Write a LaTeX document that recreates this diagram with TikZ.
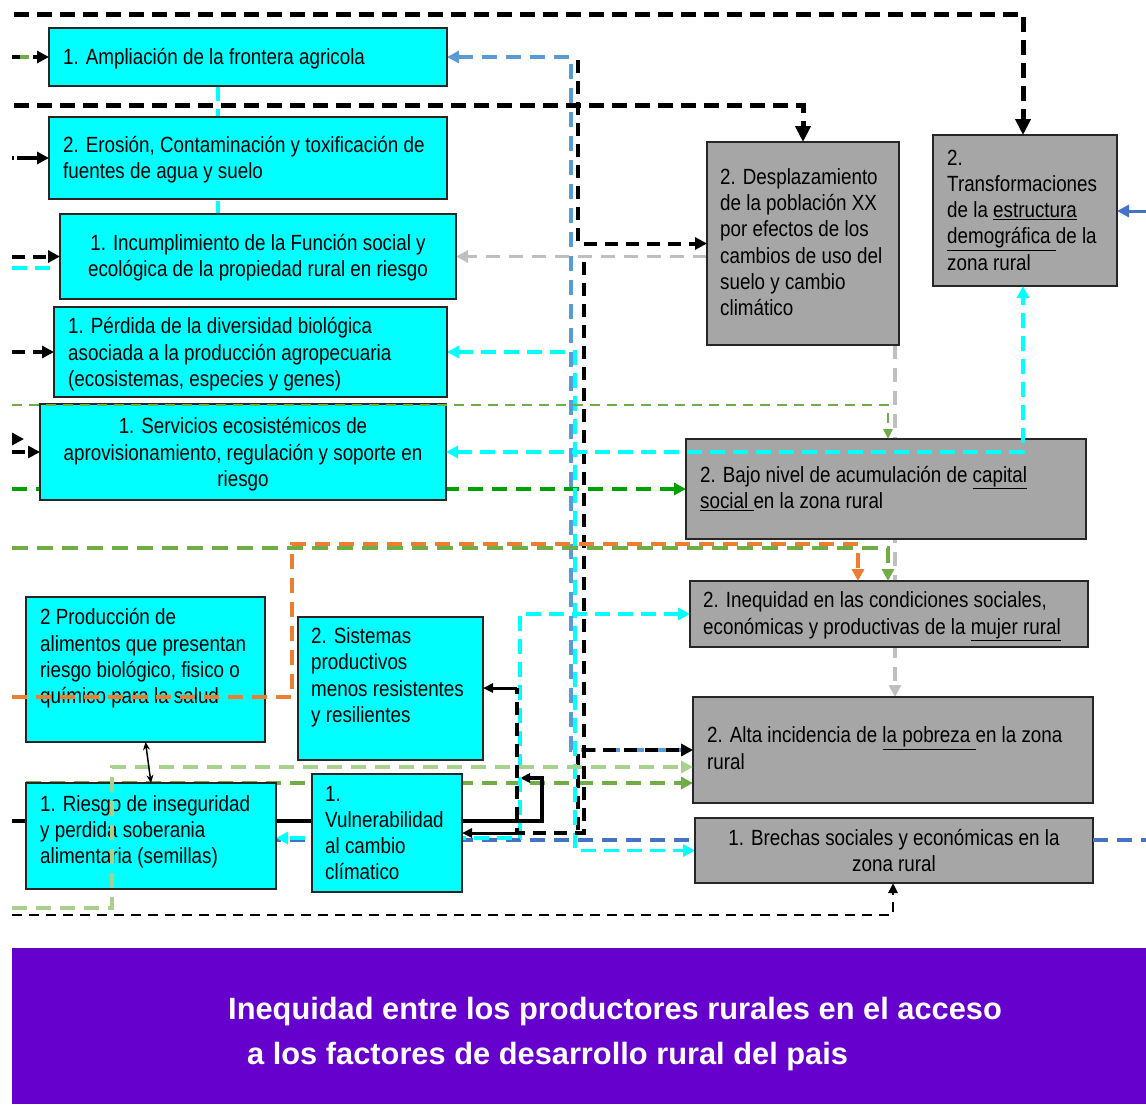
\documentclass[tikz,border=0pt]{standalone}
\usepackage{fontspec}
\newfontfamily\boxfont{Liberation Sans}[FakeStretch=0.855]
\newfontfamily\bannerfont{Liberation Sans}
\usetikzlibrary{arrows.meta}
\pgfdeclarelayer{background}
\pgfsetlayers{background,main}

\definecolor{boxcyan}{HTML}{00FFFF}
\definecolor{boxgray}{HTML}{A6A6A6}
\definecolor{bannerviolet}{HTML}{6600CC}
\definecolor{lblue}{HTML}{5B9BD5}
\definecolor{dblue}{HTML}{4472C4}
\definecolor{lgray}{HTML}{BFBFBF}
\definecolor{mgreen}{HTML}{70AD47}
\definecolor{pgreen}{HTML}{A9D18E}
\definecolor{dgreen}{HTML}{00A000}
\definecolor{orng}{HTML}{ED7D31}
\definecolor{edge}{HTML}{262626}

\tikzset{
  cbox/.style={draw=edge, line width=1.5pt, fill=boxcyan, inner sep=0pt, outer sep=0pt},
  gbox/.style={draw=edge, line width=1.5pt, fill=boxgray, inner sep=0pt, outer sep=0pt},
  txt/.style={font=\boxfont\fontsize{22}{26.2}\selectfont, inner sep=0pt, align=left, anchor=west,
    execute at begin node=\strut, execute at end node=\strut},
  ctxt/.style={txt, align=center, anchor=center},
  tipL/.style={-{Triangle[length=16pt,width=15pt]}},
  tipM/.style={-{Triangle[length=12pt,width=12pt]}},
  tipS/.style={-{Triangle[length=10pt,width=9pt]}},
  tipMM/.style={{Triangle[length=12pt,width=12pt]}-{Triangle[length=12pt,width=12pt]}},
  bkthick/.style={black, line width=5pt, dash pattern=on 15pt off 8pt},
  bkmid/.style={black, line width=4pt, dash pattern=on 13pt off 8pt},
  bkthin/.style={black, line width=2.8pt, dash pattern=on 10pt off 7pt},
  cyline/.style={boxcyan, line width=3.8pt, dash pattern=on 15pt off 8pt},
  lbline/.style={lblue, line width=3.6pt, dash pattern=on 15pt off 9pt},
  dbline/.style={dblue, line width=3.6pt, dash pattern=on 15pt off 9pt},
  grline/.style={lgray, line width=3.6pt, dash pattern=on 14pt off 9pt},
  mgthin/.style={mgreen, line width=2.6pt, dash pattern=on 10pt off 7pt},
  mgthick/.style={mgreen, line width=4pt, dash pattern=on 16pt off 9pt},
  mgmid/.style={mgreen, line width=3.6pt, dash pattern=on 15pt off 9pt},
  dgline/.style={dgreen, line width=4pt, dash pattern=on 15pt off 9pt},
  orline/.style={orng, line width=4pt, dash pattern=on 15pt off 9pt},
  pgline/.style={pgreen, line width=3.6pt, dash pattern=on 15pt off 9pt},
}

\begin{document}
\begin{tikzpicture}[x=1pt, y=-1pt]
\useasboundingbox (0,0) rectangle (1146,1104);
\begin{pgfonlayer}{background}
  \fill[white] (0,0) rectangle (1146,1104);
\end{pgfonlayer}

% ---------- cyan boxes ----------
\node[cbox, minimum width=398pt, minimum height=58pt] (amp) at (248,57) {};
\node[cbox, minimum width=398pt, minimum height=82pt] (ero) at (248,158) {};
\node[cbox, minimum width=396pt, minimum height=85pt] (inc) at (258,256.5) {};
\node[cbox, minimum width=393pt, minimum height=90pt] (per) at (250.5,352) {};
\node[cbox, minimum width=406pt, minimum height=96pt] (ser) at (243,452) {};
\node[cbox, minimum width=239pt, minimum height=145pt] (prod) at (145.5,669.5) {};
\node[cbox, minimum width=185pt, minimum height=143pt] (sis) at (390.5,688.5) {};
\node[cbox, minimum width=250pt, minimum height=106pt] (rie) at (151,836) {};
\node[cbox, minimum width=150pt, minimum height=118pt] (vul) at (387,833) {};

% ---------- gray boxes ----------
\node[gbox, minimum width=192pt, minimum height=203pt] (des) at (803,243.5) {};
\node[gbox, minimum width=184pt, minimum height=151pt] (tra) at (1025,210.5) {};
\node[gbox, minimum width=400pt, minimum height=100pt] (baj) at (886,489) {};
\node[gbox, minimum width=398pt, minimum height=66pt] (ineq) at (889,614) {};
\node[gbox, minimum width=400pt, minimum height=106pt] (alta) at (893,750) {};
\node[gbox, minimum width=398pt, minimum height=65pt] (bre) at (894,850.5) {};

% ---------- box texts ----------
\node[txt] (amp-t) at (63,59.5) {1. Ampliación de la frontera agricola};
\node[txt] (ero-t) at (63,161.5) {2. Erosión, Contaminación y toxificación de\\fuentes de agua y suelo};
\node[ctxt] (inc-t) at (258,259.5) {1. Incumplimiento de la Función social y\\ecológica de la propiedad rural en riesgo};
\node[txt] (per-t) at (68,356) {1. Pérdida de la diversidad biológica\\asociada a la producción agropecuaria\\(ecosistemas, especies y genes)};
\node[ctxt] (ser-t) at (243,456) {1. Servicios ecosistémicos de\\aprovisionamiento, regulación y soporte en\\riesgo};
\node[txt] (prod-t) at (40,660) {2 Producción de\\alimentos que presentan\\riesgo biológico, fisico o\\químico para la salud};
\node[txt] (sis-t) at (311,679) {2. Sistemas\\productivos\\menos resistentes\\y resilientes};
\node[txt] (rie-t) at (40,833.5) {1. Riesgo de inseguridad\\y perdida soberania\\alimentaria (semillas)};
\node[txt] (vul-t) at (325,837) {1.\\Vulnerabilidad\\al cambio\\clímatico};
\node[txt] (des-t) at (720,246) {2. Desplazamiento\\de la población XX\\por efectos de los\\cambios de uso del\\suelo y cambio\\climático};
\node[txt] (tra-t) at (947,214) {2.\\Transformaciones\\de la \underline{estructura}\\\underline{demográfica }de la\\zona rural};
\node[txt] (baj-t) at (700,491.5) {2. Bajo nivel de acumulación de \underline{capital}\\\underline{social }en la zona rural};
\node[txt] (ineq-t) at (703,617) {2. Inequidad en las condiciones sociales,\\económicas y productivas de la \underline{mujer rural}};
\node[txt] (alta-t) at (707,752) {2. Alta incidencia de \underline{la pobreza }en la zona\\rural};
\node[ctxt] (bre-t) at (894,854) {1. Brechas sociales y económicas en la\\zona rural};

% ---------- banner ----------
\node[fill=bannerviolet, minimum width=1134pt, minimum height=156pt, inner sep=0pt] (ban) at (579,1026) {};
\node[anchor=base west, inner sep=0pt, text=white, font=\bannerfont\bfseries\fontsize{30.8}{36}\selectfont]
  (ban-a) at (228,1019) {Inequidad entre los productores rurales en el acceso};
\node[anchor=base west, inner sep=0pt, text=white, font=\bannerfont\bfseries\fontsize{30.8}{36}\selectfont]
  (ban-b) at (247,1064) {a los factores de desarrollo rural del pais};

% ---------- routing points ----------
\coordinate (k1) at (14,14);   \coordinate (k1r) at (1023,14);
\coordinate (k2) at (14,105);  \coordinate (k2r) at (803,105);
\coordinate (v1) at (578,60);
\coordinate (v2) at (584,262); \coordinate (v2b) at (584,833);
\coordinate (v3) at (517,833); \coordinate (v3t) at (517,688);
\coordinate (s0) at (12,821);  \coordinate (s1) at (542,821);
\coordinate (s2) at (542,778); \coordinate (s3) at (520,778);
\coordinate (a1) at (578,830);
\coordinate (b1) at (571,57);  \coordinate (b2) at (571,750);
\coordinate (d1) at (26,840);  \coordinate (d2) at (1146,840);
\coordinate (d3) at (1146,211);
\coordinate (c1) at (218,0);
\coordinate (c2) at (12,268);  \coordinate (c2r) at (55,268);
\coordinate (c3) at (575,0);
\coordinate (c4) at (1023,452);
\coordinate (c5) at (520,838);
\coordinate (g1) at (895,345);
\coordinate (m1) at (12,405);  \coordinate (m1r) at (888,405);
\coordinate (m2) at (12,548);  \coordinate (m2r) at (888,548);
\coordinate (m3) at (26,783);
\coordinate (dg) at (12,489);
\coordinate (o1) at (12,697);  \coordinate (o2) at (292,697);
\coordinate (o3) at (292,544); \coordinate (o4) at (858,544);
\coordinate (p1) at (12,908);  \coordinate (p2) at (112,908);
\coordinate (p3) at (112,767);
\coordinate (q1) at (12,915);  \coordinate (q2) at (893,915);
\coordinate (e1) at (12,57);   \coordinate (e1g) at (20,57); \coordinate (e1h) at (29,57);
\coordinate (e2d) at (12,158); \coordinate (e2e) at (14,158); \coordinate (e2) at (17,158);
\coordinate (e3) at (12,256.5);
\coordinate (e4) at (12,352);
\coordinate (e5) at (12,439);  \coordinate (e5r) at (24,439);
\coordinate (e6) at (12,452);

% ---------- connectors behind the boxes ----------
\begin{pgfonlayer}{background}
  \draw[cyline] (c1 |- amp.south) -- (c1 |- inc.north);
  \draw[grline, tipM] (inc.east -| des.west) -- (inc.east);
  \draw[grline, tipM] (g1) -- (g1 |- alta.north);
  \draw[dgline, tipM] (dg) -- (baj.west);
  \draw[mgmid, tipM] (m3) -- (m3 -| alta.west);
  \draw[black, line width=3.4pt, tipS] (s0) -- (s1) -- (s2) -- (s3);
  \draw[dbline] (d1) -- (d1 -| bre.west);
  \draw[cyline, tipMM] (ineq.west) -- (ineq.west -| c5) -- (c5) -- (c5 -| rie.east);
  \draw[lbline, tipMM] (amp.east) -- (b1) -- (b2) -- (alta.west);
  \draw[bkmid, tipM] (a1) -- (a1 |- alta.west) -- (alta.west);
  \draw[cyline, tipMM] (per.east) -- (per.east -| c3) -- (c3 |- bre.west) -- (bre.west);
\end{pgfonlayer}

% ---------- connectors in front ----------
\draw[bkthick, tipL] (k1) -- (k1r) -- (k1r |- tra.north);
\draw[bkthick, tipL] (k2) -- (k2r) -- (k2r |- des.north);
\draw[bkmid, tipM] (v1) -- (v1 |- des.west) -- (des.west);
\draw[bkmid] (v2) -- (v2b) -- (v3) -- (v3t);
\draw[black, line width=3pt, tipS] (v3) -- (v3 -| vul.east);
\draw[black, line width=3pt, tipS] (v3t) -- (v3t -| sis.east);
\draw[dbline] (d2 -| bre.east) -- (d2);
\draw[dblue, line width=3pt, tipM] (d3) -- (d3 -| tra.east);
\draw[cyline] (c2) -- (c2r);
\draw[cyline, tipMM] (ser.east) -- (c4) -- (c4 |- tra.south);
\draw[mgthin, tipS] (m1) -- (m1r) -- (m1r |- baj.north);
\draw[mgthick, tipM] (m2) -- (m2r) -- (m2r |- ineq.north);
\draw[orline, tipM] (o1) -- (o2) -- (o3) -- (o4) -- (o4 |- ineq.north);
\draw[pgline, tipM] (p1) -- (p2) -- (p3) -- (p3 -| alta.west);
\draw[bkthin, tipS] (q1) -- (q2) -- (q2 |- bre.south);
\draw[black, line width=1.5pt, {Stealth[length=8pt,width=7pt]}-{Stealth[length=8pt,width=7pt]}] (prod.south) -- (rie.north);
\draw[bkmid, tipM] (e1) -- (amp.west);
\draw[mgreen, line width=4pt] (e1g) -- (e1h);
\draw[black, line width=4pt] (e2d) -- (e2e);
\draw[black, line width=4pt, tipM] (e2) -- (ero.west);
\draw[bkmid, tipM] (e3) -- (inc.west);
\draw[bkmid, tipM] (e4) -- (per.west);
\draw[black, line width=3pt, tipM] (e5) -- (e5r);
\draw[bkmid, tipM] (e6) -- (ser.west);
\end{tikzpicture}
\end{document}
